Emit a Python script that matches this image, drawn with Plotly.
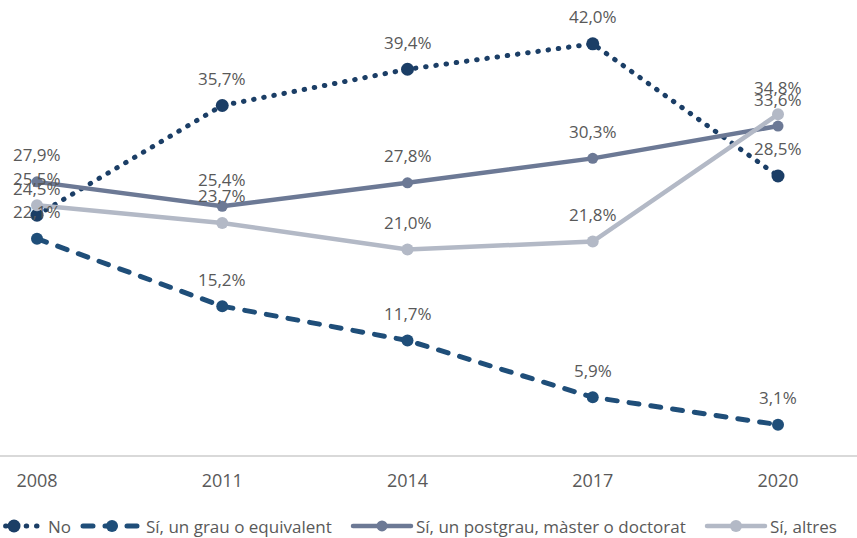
import plotly.graph_objects as go

# Survey waves
years = [2008, 2011, 2014, 2017, 2020]

# Share of respondents (%) per answer
no_vals = [24.5, 35.7, 39.4, 42.0, 28.5]
grau_vals = [22.1, 15.2, 11.7, 5.9, 3.1]
postgrau_vals = [27.9, 25.4, 27.8, 30.3, 33.6]
altres_vals = [25.5, 23.7, 21.0, 21.8, 34.8]

series_names = ["No", "Sí, un grau o equivalent",
                "Sí, un postgrau, màster o doctorat", "Sí, altres"]

FONT = "Open Sans"
TEXT_COLOR = "#595959"


def fmt(v):
    return f"{v:.1f}".replace(".", ",") + "%"


styles = [
    dict(color="#1B3E66", width=5, dash="0.5px,9.8px", msize=13),
    dict(color="#1F4E79", width=5, dash="10px,12px", msize=12),
    dict(color="#6C7995", width=4.5, dash="solid", msize=11),
    dict(color="#B3B9C6", width=4.5, dash="solid", msize=12),
]
all_vals = [no_vals, grau_vals, postgrau_vals, altres_vals]
legend_ids = ["legend", "legend2", "legend3", "legend4"]

fig = go.Figure()
for name, vals, st, lg in zip(series_names, all_vals, styles, legend_ids):
    fig.add_trace(go.Scatter(
        x=years, y=vals, name=name, mode="lines+markers",
        line=dict(color=st["color"], width=st["width"], dash=st["dash"]),
        marker=dict(color=st["color"], size=st["msize"]),
        legend=lg, cliponaxis=False,
    ))

# Value labels above each point
annotations = []
for vals in all_vals:
    for x, v in zip(years, vals):
        annotations.append(dict(
            x=x, y=v, xref="x", yref="y", text=fmt(v), showarrow=False,
            xanchor="center", yanchor="middle", yshift=27,
            font=dict(family=FONT, size=17, color=TEXT_COLOR),
        ))

PX_PER_YEAR = 741 / 12
x0 = 2008 - 37 / PX_PER_YEAR
x1 = 2008 + (857 - 37) / PX_PER_YEAR

# Separate legend boxes so each entry sits at its own position
W = 857
text_starts = [47, 145, 415, 769]
legend_x = [(t - 67) / W for t in text_starts]
legend_layout = {}
for lg, lx in zip(legend_ids, legend_x):
    legend_layout[lg] = dict(
        x=lx, y=-0.157, xanchor="left", yanchor="middle",
        orientation="h", itemwidth=58, bgcolor="rgba(0,0,0,0)",
        font=dict(family=FONT, size=17, color=TEXT_COLOR),
    )

fig.update_layout(
    width=W, height=538,
    margin=dict(l=0, r=0, t=0, b=83, autoexpand=False),
    paper_bgcolor="white", plot_bgcolor="white",
    showlegend=True,
    annotations=annotations,
    xaxis=dict(
        range=[x0, x1], tickmode="array", tickvals=years,
        ticktext=[str(y) for y in years],
        showgrid=False, zeroline=False,
        showline=True, linecolor="#D9D9D9", linewidth=2,
        ticks="outside", ticklen=8, tickcolor="rgba(0,0,0,0)",
        tickfont=dict(family=FONT, size=18, color=TEXT_COLOR),
    ),
    yaxis=dict(range=[0, 455 / 9.79], visible=False, showgrid=False),
    **legend_layout,
)

# Rounded line caps give round dots and rounded dash ends
post_js = """
var gd = document.getElementById('{plot_id}');
function roundCaps(){
  if (!gd) return;
  gd.querySelectorAll('.js-line').forEach(function(p){
    p.style.strokeLinecap = 'round';
  });
}
roundCaps();
setTimeout(roundCaps, 50);
if (gd && gd.on) { gd.on('plotly_afterplot', roundCaps); }
"""

fig.write_html("out.html", post_script=post_js)
